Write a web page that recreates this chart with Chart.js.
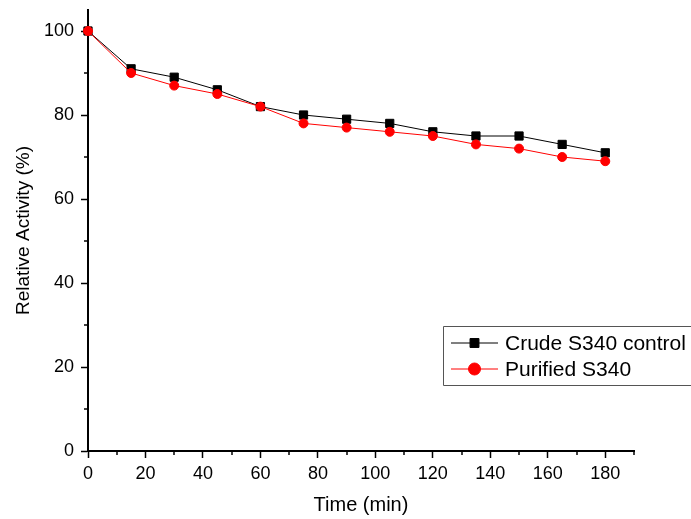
<!DOCTYPE html>
<html>
<head>
<meta charset="utf-8">
<script src="https://cdn.jsdelivr.net/npm/chart.js@4/dist/chart.umd.min.js"></script>
<style>
  html, body { margin: 0; padding: 0; background: #fff; overflow: hidden; }
  #wrap { position: relative; width: 691px; height: 519px; }
  canvas { display: block; }
</style>
</head>
<body>
<div id="wrap"><canvas id="activityChart"></canvas></div>
<script>
const timeMin = [0, 15, 30, 45, 60, 75, 90, 105, 120, 135, 150, 165, 180];
const crudeS340 = [100, 91, 89, 86, 82, 80, 79, 78, 76, 75, 75, 73, 71];
const purifiedS340 = [100, 90, 87, 85, 82, 78, 77, 76, 75, 73, 72, 70, 69];
const seriesLabels = ["Crude S340 control", "Purified S340"];

const FONT = "'Liberation Sans', Arial, sans-serif";

// minor ticks every 10 units, shorter than the labelled ones
const minorTicks = {
  id: "minorTicks",
  afterDraw(chart) {
    const { ctx, scales } = chart;
    ctx.save();
    ctx.strokeStyle = "#000";
    ctx.lineWidth = 1.5;
    const x = scales.x, y = scales.y;
    for (let v = 10; v <= x.max; v += 20) {
      const px = Math.round(x.getPixelForValue(v));
      ctx.beginPath();
      ctx.moveTo(px, x.top);
      ctx.lineTo(px, x.top + 4);
      ctx.stroke();
    }
    for (let v = 10; v < 100; v += 20) {
      const py = Math.round(y.getPixelForValue(v));
      ctx.beginPath();
      ctx.moveTo(y.right, py);
      ctx.lineTo(y.right - 4, py);
      ctx.stroke();
    }
    ctx.restore();
  }
};

// boxed legend inside the plot, lower right (runs off the right edge)
const boxLegend = {
  id: "boxLegend",
  afterDraw(chart) {
    const { ctx } = chart;
    const left = 443, top = 326, bottom = 385;
    ctx.save();
    ctx.strokeStyle = "#555";
    ctx.lineWidth = 1;
    ctx.beginPath();
    ctx.moveTo(chart.width + 5, top + 0.5);
    ctx.lineTo(left + 0.5, top + 0.5);
    ctx.lineTo(left + 0.5, bottom + 0.5);
    ctx.lineTo(chart.width + 5, bottom + 0.5);
    ctx.stroke();
    const rows = [343, 369];
    const symbolRadius = [6.3, 6];
    chart.data.datasets.forEach((ds, i) => {
      const ry = rows[i];
      ctx.strokeStyle = ds.borderColor;
      ctx.lineWidth = 1;
      ctx.beginPath();
      ctx.moveTo(451, ry);
      ctx.lineTo(498, ry);
      ctx.stroke();
      ctx.fillStyle = ds.pointBackgroundColor;
      ctx.strokeStyle = ds.pointBorderColor;
      Chart.helpers.drawPoint(ctx, {
        pointStyle: ds.pointStyle,
        radius: symbolRadius[i],
        borderWidth: ds.pointBorderWidth,
        rotation: 0
      }, 474.5, ry);
      ctx.fillStyle = "#000";
      ctx.font = "21px " + FONT;
      ctx.textBaseline = "middle";
      ctx.textAlign = "left";
      ctx.fillText(ds.label, 505, ry + 1);
    });
    ctx.restore();
  }
};

// keep the plot box fixed: no extra room for half-height edge labels
const noEdgePadding = (scaleInstance) => {
  scaleInstance.paddingTop = 0;
  scaleInstance.paddingBottom = 0;
  scaleInstance.paddingLeft = 0;
  scaleInstance.paddingRight = 0;
};

new Chart(document.getElementById("activityChart"), {
  type: "line",
  data: {
    labels: timeMin,
    datasets: [
      {
        label: seriesLabels[0],
        data: timeMin.map((t, i) => ({ x: t, y: crudeS340[i] })),
        borderColor: "#000",
        borderWidth: 1,
        pointStyle: "rect",
        pointRadius: 5.8,
        pointBackgroundColor: "#000",
        pointBorderColor: "#000",
        pointBorderWidth: 1,
        tension: 0,
        clip: false,
        order: 1
      },
      {
        label: seriesLabels[1],
        data: timeMin.map((t, i) => ({ x: t, y: purifiedS340[i] })),
        borderColor: "#ff0000",
        borderWidth: 1,
        pointStyle: "circle",
        pointRadius: 4.5,
        pointBackgroundColor: "#ff0000",
        pointBorderColor: "#ff0000",
        pointBorderWidth: 1,
        tension: 0,
        clip: false,
        order: 0
      }
    ]
  },
  options: {
    responsive: true,
    maintainAspectRatio: false,
    animation: false,
    layout: { padding: { top: 10, right: 57, left: 0, bottom: 0 } },
    plugins: {
      legend: { display: false },
      tooltip: { enabled: false }
    },
    scales: {
      x: {
        type: "linear",
        min: 0,
        max: 190,
        afterFit: function (scaleInstance) {
          noEdgePadding(scaleInstance);
          scaleInstance.height = 68;
        },
        border: { color: "#000", width: 2 },
        grid: {
          drawOnChartArea: false,
          drawTicks: true,
          tickLength: 7,
          tickWidth: 1.5,
          tickColor: "#000"
        },
        ticks: {
          stepSize: 20,
          includeBounds: false,
          autoSkip: false,
          color: "#000",
          padding: 5,
          maxRotation: 0,
          font: { family: FONT, size: 18 }
        },
        title: {
          display: true,
          text: "Time (min)",
          color: "#000",
          padding: { top: 0, bottom: 2 },
          font: { family: FONT, size: 20 }
        }
      },
      y: {
        type: "linear",
        min: 0,
        max: 105,
        afterFit: function (scaleInstance) {
          noEdgePadding(scaleInstance);
          scaleInstance.width = 88;
        },
        border: { color: "#000", width: 2 },
        grid: {
          drawOnChartArea: false,
          drawTicks: true,
          tickLength: 7,
          tickWidth: 1.5,
          tickColor: "#000"
        },
        ticks: {
          stepSize: 20,
          includeBounds: false,
          autoSkip: false,
          color: "#000",
          padding: 7,
          font: { family: FONT, size: 18 }
        },
        title: {
          display: true,
          text: "Relative Activity (%)",
          color: "#000",
          padding: { top: 12, bottom: 0 },
          font: { family: FONT, size: 19 }
        }
      }
    }
  },
  plugins: [minorTicks, boxLegend]
});
</script>
</body>
</html>
